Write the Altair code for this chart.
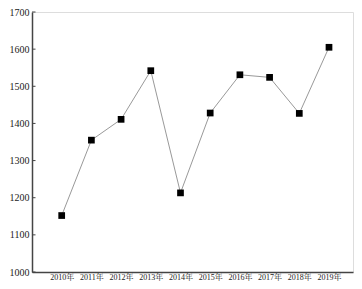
import altair as alt
import pandas as pd

years = ["2010年", "2011年", "2012年", "2013年", "2014年", "2015年", "2016年", "2017年", "2018年", "2019年"]
values = [1152, 1355, 1411, 1542, 1213, 1428, 1531, 1524, 1427, 1605]
y_ticks = [1000, 1100, 1200, 1300, 1400, 1500, 1600, 1700]

df = pd.DataFrame({"year": years, "value": values})
ticks_df = pd.DataFrame({"value": y_ticks})

FONT = "Liberation Serif, Noto Serif CJK SC, Noto Sans CJK SC"

x_scale = alt.Scale(type="point", padding=0.904, align=0.553)
x_axis = alt.Axis(title=None, labelAngle=0, ticks=False, labelPadding=1,
                  labelFont=FONT, labelFontSize=8, labelColor="#222",
                  labelOverlap=False,
                  domainColor="#444", domainWidth=1.5, grid=False)
y_scale = alt.Scale(domain=[1000, 1700], nice=False, zero=False)
y_axis = alt.Axis(title=None, values=y_ticks, ticks=False, labelPadding=3,
                  format="d", labelOverlap=False,
                  labelFont=FONT, labelFontSize=10, labelColor="#222",
                  domainColor="#444", domainWidth=1.5, grid=False)

x_enc = alt.X("year:O", sort=years, scale=x_scale, axis=x_axis)
y_enc = alt.Y("value:Q", scale=y_scale, axis=y_axis)

line = alt.Chart(df).mark_line(color="#999999", strokeWidth=1).encode(x=x_enc, y=y_enc)
pts = alt.Chart(df).mark_point(shape="square", filled=True, color="#000000", size=45, opacity=1).encode(
    x=x_enc, y=y_enc)
tk = alt.Chart(ticks_df).mark_rule(color="#444", strokeWidth=1).encode(
    y=y_enc, x=alt.value(0), x2=alt.value(3.5))

chart = alt.layer(line, pts, tk).properties(
    width=321, height=260,
    autosize=alt.AutoSizeParams(type="none"),
    padding={"left": 24, "top": 4, "right": 1, "bottom": 9},
).configure_view(stroke=None).configure_axisY(labelOverlap=False).configure(background="white")

chart.save("out.html", embed_options={"renderer": "svg", "actions": False})
